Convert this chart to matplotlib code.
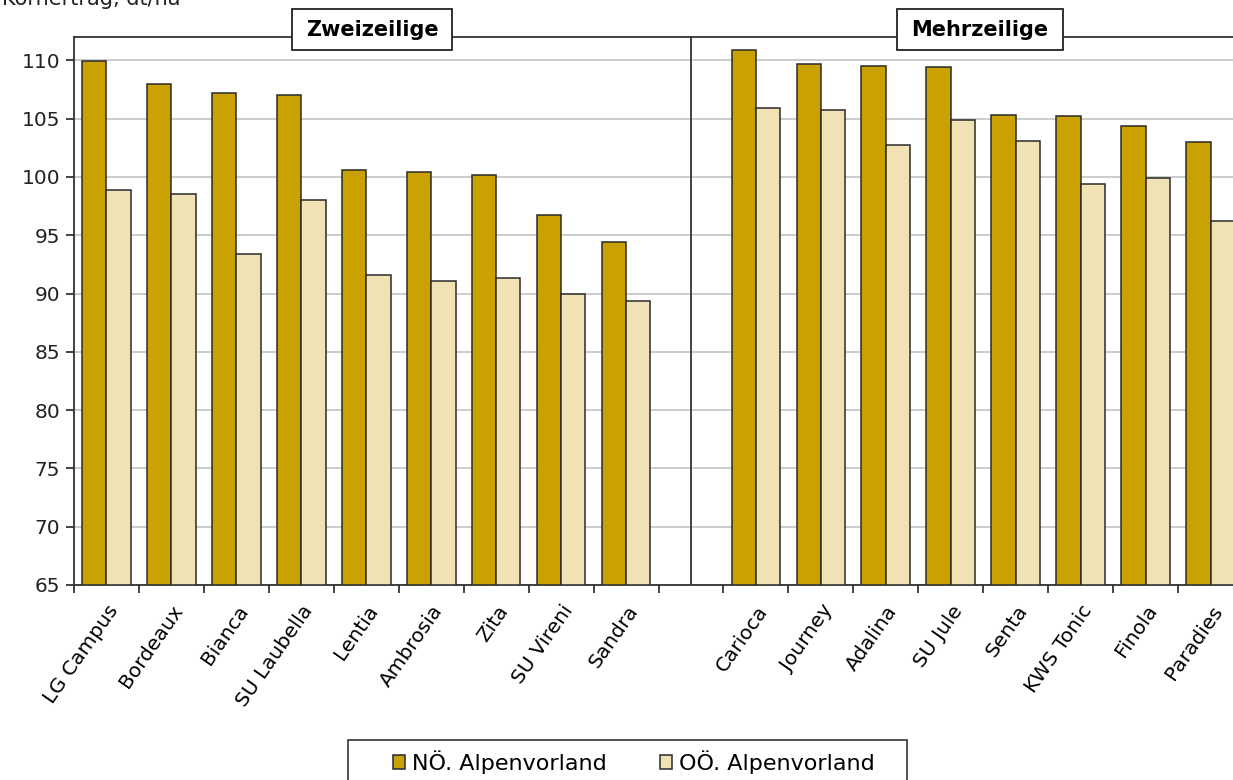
import numpy as np
import matplotlib
matplotlib.use("Agg")
import matplotlib.pyplot as plt
from matplotlib.patches import Rectangle

# Data (Kornertrag, dt/ha)
zwei_sorten = ["LG Campus", "Bordeaux", "Bianca", "SU Laubella", "Lentia",
               "Ambrosia", "Zita", "SU Vireni", "Sandra"]
zwei_noe = [109.9, 108.0, 107.2, 107.0, 100.6, 100.4, 100.2, 96.7, 94.4]
zwei_ooe = [98.9, 98.5, 93.35, 98.0, 91.6, 91.1, 91.3, 90.0, 89.4]

mehr_sorten = ["Carioca", "Journey", "Adalina", "SU Jule", "Senta",
               "KWS Tonic", "Finola", "Paradies"]
mehr_noe = [110.9, 109.7, 109.5, 109.4, 105.3, 105.2, 104.4, 103.0]
mehr_ooe = [105.9, 105.7, 102.7, 104.9, 103.1, 99.4, 99.9, 96.2]

group_titles = ["Zweizeilige", "Mehrzeilige"]
series_names = ["NÖ. Alpenvorland", "OÖ. Alpenvorland"]
y_ticks = [65, 70, 75, 80, 85, 90, 95, 100, 105, 110]

W, H = 1233, 780  # figure size in pixels


def main():
    plt.rcParams['font.family'] = ['DejaVu Sans']

    color_noe = '#C9A100'
    color_ooe = '#F1E2B6'
    edge = '#2a2a2a'
    dark = '#333333'

    # one empty slot between the two groups
    x_zwei = np.arange(len(zwei_sorten))
    x_mehr = np.arange(len(mehr_sorten)) + len(zwei_sorten) + 1
    n_slots = len(zwei_sorten) + 1 + len(mehr_sorten)

    fig = plt.figure(figsize=(W / 100, H / 100), dpi=100)
    # axes runs a little past the right edge, like the cropped original
    ax = fig.add_axes([74 / W, 1 - 585 / H, (1243 - 74) / W, (585 - 37) / H])

    w = 0.375
    ax.bar(x_zwei - w / 2, np.array(zwei_noe) - 65, w, bottom=65, color=color_noe,
           edgecolor=edge, linewidth=1.1, label=series_names[0], zorder=3)
    ax.bar(x_zwei + w / 2, np.array(zwei_ooe) - 65, w, bottom=65, color=color_ooe,
           edgecolor=edge, linewidth=1.1, label=series_names[1], zorder=3)
    ax.bar(x_mehr - w / 2, np.array(mehr_noe) - 65, w, bottom=65, color=color_noe,
           edgecolor=edge, linewidth=1.1, zorder=3)
    ax.bar(x_mehr + w / 2, np.array(mehr_ooe) - 65, w, bottom=65, color=color_ooe,
           edgecolor=edge, linewidth=1.1, zorder=3)

    ax.set_xlim(-0.5, n_slots - 0.5)
    ax.set_ylim(65, 112)

    # y axis
    ax.set_yticks(y_ticks)
    ax.tick_params(axis='y', direction='out', length=6, width=1.2, labelsize=14.5,
                   colors='#222222', pad=4)
    ax.yaxis.grid(True, color='#C4C4C4', linewidth=1.2, zorder=0)

    # x axis: tick marks at category borders, labels at centers
    borders = np.arange(n_slots + 1) - 0.5
    ax.set_xticks(borders)
    ax.set_xticklabels([])
    ax.tick_params(axis='x', which='major', direction='out', length=6, width=1.2,
                   colors='#222222')
    centers = list(x_zwei) + list(x_mehr)
    ax.set_xticks(centers, minor=True)
    ax.set_xticklabels(zwei_sorten + mehr_sorten, minor=True, rotation=55,
                       ha='right', rotation_mode='anchor', fontsize=14.5)
    ax.tick_params(axis='x', which='minor', length=0, pad=12)

    for s in ['top', 'left', 'bottom']:
        ax.spines[s].set_color(dark)
        ax.spines[s].set_linewidth(1.3)
    ax.spines['right'].set_visible(False)

    # divider between the groups
    ax.axvline(len(zwei_sorten), color=dark, linewidth=1.3, zorder=4)

    # group titles sitting on the top frame line, white box behind each
    titles = [
        ax.text(np.mean(x_zwei) + 0.09, 112.64, group_titles[0], ha='center',
                va='center', fontsize=15, fontweight='bold', zorder=7, clip_on=False),
        ax.text(np.mean(x_mehr) - 0.05, 112.64, group_titles[1], ha='center',
                va='center', fontsize=15, fontweight='bold', zorder=7, clip_on=False),
    ]
    fig.canvas.draw()
    for t in titles:
        bb = t.get_window_extent()
        cx, cy = (bb.x0 + bb.x1) / 2, (bb.y0 + bb.y1) / 2
        bw, bh = bb.width + 28, 41
        ax.add_patch(Rectangle(((cx - bw / 2) / W, (cy - bh / 2) / H), bw / W, bh / H,
                               transform=fig.transFigure, facecolor='white',
                               edgecolor='#222222', linewidth=1.3, zorder=6,
                               clip_on=False))

    # y axis title, mostly cut off at the top edge like the original
    fig.text(2 / W, 1 - 5 / H, "Kornertrag, dt/ha", ha='left', va='baseline',
             fontsize=15, color='#222222')

    # legend with a hand-drawn frame (runs off the bottom edge)
    fig.add_artist(Rectangle((348 / W, 1 - 800 / H), (907 - 348) / W, 60 / H,
                             transform=fig.transFigure, facecolor='white',
                             edgecolor=dark, linewidth=1.2, zorder=1))
    leg = fig.legend(loc='center left', bbox_to_anchor=(393 / W, 1 - 762 / H),
                     ncol=2, frameon=False, fontsize=16,
                     handlelength=0.55, handleheight=0.55, handletextpad=0.3,
                     columnspacing=2.4, borderpad=0, borderaxespad=0)
    leg.set_zorder(2)

    fig.savefig("out.png", dpi=100)


if __name__ == "__main__":
    main()
